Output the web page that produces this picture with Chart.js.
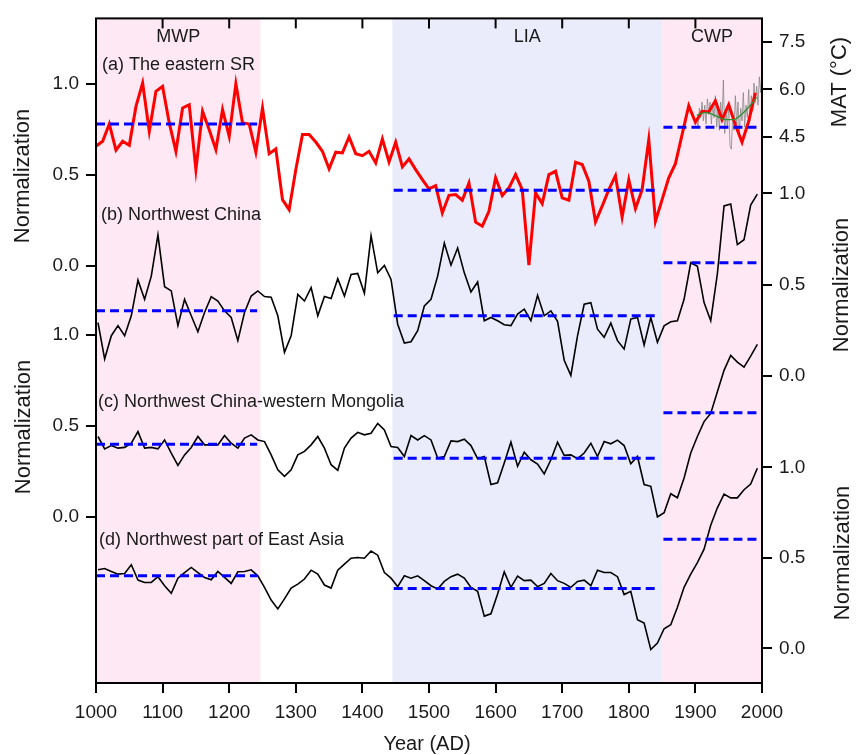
<!DOCTYPE html>
<html lang="en">
<head>
<meta charset="utf-8">
<title>Temperature reconstructions, Northwest China</title>
<script src="https://cdn.jsdelivr.net/npm/chart.js@4.4.1/dist/chart.umd.min.js"></script>
<style>
  html, body { margin: 0; padding: 0; background: #fff; }
  #wrap { width: 856px; height: 755px; }
</style>
</head>
<body>
<div id="wrap"><canvas id="chart" width="856" height="755"></canvas></div>
<script>
/* ============================================================
   Stacked reconstructions (a)-(d), 1000-2000 AD
   ============================================================ */

/* ── Data ── */
// (a) is on decades, the black curves (b)(c)(d) sit a few years later
const YEARS_A = Array.from({ length: 100 }, (_, i) => 1000 + 10 * i);
const YEARS_BCD = Array.from({ length: 100 }, (_, i) => 1003 + 10 * i);

const SERIES_A = [
  0.658, 0.685, 0.780, 0.636, 0.685, 0.663, 0.877, 1.005, 0.740, 0.960,
  0.987, 0.786, 0.630, 0.868, 0.886, 0.529, 0.850, 0.749, 0.639, 0.859,
  0.712, 1.002, 0.786, 0.780, 0.625, 0.868, 0.617, 0.643, 0.364, 0.309,
  0.529, 0.722, 0.722, 0.681, 0.630, 0.533, 0.625, 0.621, 0.709, 0.617,
  0.606, 0.630, 0.566, 0.698, 0.571, 0.680, 0.544, 0.588, 0.529, 0.474,
  0.423, 0.441, 0.291, 0.388, 0.392, 0.361, 0.456, 0.240, 0.218, 0.300,
  0.484, 0.386, 0.429, 0.502, 0.419, 0.004, 0.401, 0.342, 0.502, 0.520,
  0.374, 0.361, 0.570, 0.557, 0.465, 0.242, 0.328, 0.419, 0.496, 0.268,
  0.474, 0.315, 0.419, 0.694, 0.245, 0.364, 0.484, 0.562, 0.722, 0.881,
  0.790, 0.850, 0.846, 0.908, 0.804, 0.886, 0.776, 0.680, 0.795, 0.951
];

const SERIES_B = [
  0.293, 0.094, 0.221, 0.276, 0.221, 0.330, 0.525, 0.420, 0.547, 0.773,
  0.489, 0.466, 0.276, 0.420, 0.330, 0.243, 0.348, 0.435, 0.411, 0.357,
  0.321, 0.194, 0.348, 0.438, 0.466, 0.435, 0.431, 0.330, 0.130, 0.221,
  0.447, 0.411, 0.484, 0.330, 0.435, 0.424, 0.533, 0.438, 0.556, 0.562,
  0.453, 0.768, 0.565, 0.605, 0.529, 0.284, 0.181, 0.188, 0.248, 0.384,
  0.420, 0.547, 0.728, 0.607, 0.701, 0.565, 0.460, 0.515, 0.303, 0.321,
  0.303, 0.281, 0.276, 0.339, 0.366, 0.303, 0.442, 0.330, 0.357, 0.300,
  0.087, 0.004, 0.220, 0.393, 0.402, 0.257, 0.212, 0.290, 0.194, 0.148,
  0.312, 0.321, 0.170, 0.321, 0.185, 0.275, 0.297, 0.303, 0.420, 0.620,
  0.601, 0.402, 0.303, 0.560, 0.931, 0.942, 0.719, 0.746, 0.936, 0.996
];

const SERIES_C = [
  0.443, 0.375, 0.393, 0.379, 0.383, 0.406, 0.470, 0.379, 0.383, 0.375,
  0.424, 0.352, 0.284, 0.342, 0.383, 0.443, 0.397, 0.397, 0.397, 0.448,
  0.406, 0.379, 0.434, 0.452, 0.424, 0.415, 0.342, 0.260, 0.224, 0.260,
  0.342, 0.361, 0.397, 0.443, 0.379, 0.288, 0.257, 0.379, 0.434, 0.466,
  0.452, 0.461, 0.515, 0.479, 0.388, 0.383, 0.333, 0.448, 0.424, 0.448,
  0.424, 0.324, 0.333, 0.419, 0.415, 0.428, 0.393, 0.321, 0.333, 0.179,
  0.188, 0.297, 0.412, 0.279, 0.357, 0.315, 0.291, 0.237, 0.315, 0.412,
  0.339, 0.342, 0.321, 0.352, 0.406, 0.333, 0.415, 0.403, 0.423, 0.393,
  0.293, 0.333, 0.179, 0.169, 0.000, 0.024, 0.128, 0.106, 0.215, 0.352,
  0.443, 0.525, 0.570, 0.689, 0.807, 0.889, 0.852, 0.825, 0.885, 0.950
];

const SERIES_D = [
  0.434, 0.441, 0.425, 0.410, 0.414, 0.462, 0.377, 0.364, 0.364, 0.396,
  0.346, 0.304, 0.388, 0.419, 0.447, 0.419, 0.392, 0.379, 0.425, 0.392,
  0.359, 0.423, 0.425, 0.434, 0.401, 0.337, 0.267, 0.218, 0.273, 0.333,
  0.355, 0.383, 0.432, 0.410, 0.350, 0.333, 0.432, 0.465, 0.498, 0.502,
  0.498, 0.538, 0.515, 0.419, 0.388, 0.341, 0.401, 0.388, 0.401, 0.374,
  0.346, 0.328, 0.370, 0.396, 0.410, 0.388, 0.337, 0.315, 0.178, 0.191,
  0.300, 0.423, 0.337, 0.399, 0.374, 0.377, 0.341, 0.359, 0.414, 0.374,
  0.359, 0.337, 0.370, 0.377, 0.346, 0.432, 0.419, 0.419, 0.396, 0.297,
  0.315, 0.158, 0.139, -0.007, 0.029, 0.108, 0.130, 0.227, 0.337, 0.410,
  0.474, 0.548, 0.681, 0.777, 0.853, 0.832, 0.832, 0.877, 0.908, 0.996
];

// instrumental MAT (°C), grey, and its smoothed curve, green
const MAT_YEARS = Array.from({ length: 50 }, (_, i) => 1902 + 2 * i);
const MAT_VALUES = [
  5.0, 4.8, 5.4, 5.1, 5.6, 5.0, 5.5, 4.9, 5.7, 5.2,
  5.6, 4.9, 5.5, 5.1, 5.8, 4.8, 5.4, 4.7, 5.6, 5.0,
  6.3, 4.6, 5.3, 4.8, 5.5, 4.2, 4.1, 5.2, 4.7, 5.8,
  4.9, 5.6, 4.6, 5.4, 5.0, 5.9, 4.8, 5.5, 5.1, 6.0,
  5.0, 5.8, 5.3, 6.2, 5.6, 6.1, 5.5, 6.4, 5.9, 6.7
];
const MAT_SMOOTH_YEARS = [1902, 1915, 1930, 1945, 1957, 1970, 1982, 1992];
const MAT_SMOOTH = [5.18, 5.27, 5.17, 5.04, 5.04, 5.22, 5.48, 5.75];

// climate periods and the period means (blue dashes)
const PERIOD_NAMES = ['MWP', 'LIA', 'CWP'];
const PERIOD_FROM = [1000, 1445, 1850];
const PERIOD_TO = [1247, 1850, 2000];
const MEAN_FROM = [1000, 1447, 1852];
const MEAN_TO = [1242, 1840, 2000];
const MEAN_A = [0.780, 0.416, 0.762];
const MEAN_B = [0.357, 0.330, 0.620];
const MEAN_C = [0.401, 0.324, 0.574];
const MEAN_D = [0.401, 0.331, 0.603];

const SERIES_LABELS = [
  '(a) The eastern SR',
  '(b) Northwest China',
  '(c) Northwest China-western Mongolia',
  '(d) Northwest part of East Asia'
];

// tick labels
const NORM_TICKS = [1.0, 0.5, 0.0];
const MAT_TICKS = [7.5, 6.0, 4.5];

/* ── Styles ── */
const FONT = "'Liberation Sans', Arial, Helvetica, sans-serif";
const TEXT = '#1a1a1a';
const PERIOD_COLORS = ['#fde8f3', '#eaebfb', '#fde8f3'];
const COLORS = { red: '#ff0000', black: '#000000', blue: '#0000ff', grey: 'rgba(130,130,130,0.75)', green: '#2f8f2f' };

// one hidden y scale per panel, the ranges put each panel in its band
const RANGE = {
  yA: [-2.295, 1.361],
  yB: [-1.679, 1.957],
  yC: [-0.913, 2.743],
  yD: [-0.192, 3.484],
  yMAT: [-12.868, 8.258]
};

function toAxis(v, from, to) {
  const f = (v - RANGE[from][0]) / (RANGE[from][1] - RANGE[from][0]);
  return RANGE[to][0] + f * (RANGE[to][1] - RANGE[to][0]);
}

const leftTicks = [
  ...NORM_TICKS.map(v => ({ value: v, label: v.toFixed(1) })),
  ...NORM_TICKS.map(v => ({ value: toAxis(v, 'yC', 'yA'), label: v.toFixed(1) }))
];
const rightTicks = [
  ...MAT_TICKS.map(v => ({ value: toAxis(v, 'yMAT', 'yB'), label: v.toFixed(1) })),
  ...NORM_TICKS.map(v => ({ value: v, label: v.toFixed(1) })),
  ...NORM_TICKS.map(v => ({ value: toAxis(v, 'yD', 'yB'), label: v.toFixed(1) }))
];

/* ── Datasets ── */
function series(years, values, axis, style) {
  return Object.assign({
    data: years.map((x, i) => ({ x, y: values[i] })),
    yAxisID: axis,
    pointRadius: 0,
    tension: 0,
    fill: false
  }, style);
}

function means(values, axis) {
  return values.map((v, p) => ({
    data: [{ x: MEAN_FROM[p], y: v }, { x: MEAN_TO[p], y: v }],
    yAxisID: axis,
    borderColor: COLORS.blue,
    borderWidth: 3,
    borderDash: [9, 5],
    pointRadius: 0,
    fill: false
  }));
}

const datasets = [
  ...means(MEAN_A, 'yA'),
  ...means(MEAN_B, 'yB'),
  ...means(MEAN_C, 'yC'),
  ...means(MEAN_D, 'yD'),
  series(MAT_SMOOTH_YEARS, MAT_SMOOTH, 'yMAT', { borderColor: COLORS.green, borderWidth: 1.3, cubicInterpolationMode: 'monotone' }),
  series(YEARS_A, SERIES_A, 'yA', { borderColor: COLORS.red, borderWidth: 3 }),
  series(MAT_YEARS, MAT_VALUES, 'yMAT', { borderColor: COLORS.grey, borderWidth: 1 }),
  series(YEARS_BCD, SERIES_B, 'yB', { borderColor: COLORS.black, borderWidth: 1.6 }),
  series(YEARS_BCD, SERIES_C, 'yC', { borderColor: COLORS.black, borderWidth: 1.6 }),
  series(YEARS_BCD, SERIES_D, 'yD', { borderColor: COLORS.black, borderWidth: 1.6 })
];

/* ── Decorations: period bands, frame, texts ── */
const decor = {
  id: 'decor',
  beforeDatasetsDraw(chart) {
    const { ctx, chartArea: a, scales: { x } } = chart;
    ctx.save();
    PERIOD_NAMES.forEach((_, p) => {
      const x0 = x.getPixelForValue(PERIOD_FROM[p]);
      const x1 = x.getPixelForValue(PERIOD_TO[p]);
      ctx.fillStyle = PERIOD_COLORS[p];
      ctx.fillRect(x0, a.top, x1 - x0, a.bottom - a.top);
    });
    ctx.restore();
  },
  afterDraw(chart) {
    const { ctx, chartArea: a, scales: { x } } = chart;
    ctx.save();

    // frame + inner ticks on the top edge
    ctx.strokeStyle = '#000';
    ctx.lineWidth = 2;
    ctx.strokeRect(a.left, a.top, a.right - a.left, a.bottom - a.top);
    x.ticks.forEach(t => {
      const px = x.getPixelForValue(t.value);
      ctx.beginPath();
      ctx.moveTo(px, a.top);
      ctx.lineTo(px, a.top + 10);
      ctx.stroke();
    });

    ctx.fillStyle = TEXT;
    ctx.textBaseline = 'middle';

    // period names
    ctx.font = `18px ${FONT}`;
    ctx.textAlign = 'center';
    PERIOD_NAMES.forEach((name, p) => {
      ctx.fillText(name, x.getPixelForValue((PERIOD_FROM[p] + PERIOD_TO[p]) / 2), 37);
    });

    // panel labels
    ctx.textAlign = 'left';
    [[102, 65], [101, 215], [98, 402], [99, 540]].forEach(([lx, ly], i) => {
      ctx.fillText(SERIES_LABELS[i], lx, ly);
    });

    // axis titles
    ctx.font = `20px ${FONT}`;
    ctx.textAlign = 'center';
    ctx.fillText('Year (AD)', 427, 744);

    ctx.font = `22px ${FONT}`;
    [['Normalization', 23, 176], ['Normalization', 24, 427],
     ['MAT (°C)', 840, 82], ['Normalization', 842, 285], ['Normalization', 843, 553]]
      .forEach(([txt, tx, ty]) => {
        ctx.save();
        ctx.translate(tx, ty);
        ctx.rotate(-Math.PI / 2);
        ctx.fillText(txt, 0, 0);
        ctx.restore();
      });

    ctx.restore();
  }
};

/* ── Scales ── */
const tickFont = { family: FONT, size: 19 };
const tickGrid = { drawOnChartArea: false, drawTicks: true, tickLength: 10, color: '#000', lineWidth: 2 };

function hiddenScale(id) {
  return { type: 'linear', display: false, min: RANGE[id][0], max: RANGE[id][1] };
}

function sideScale(id, position, width, list) {
  return {
    type: 'linear',
    position,
    min: RANGE[id][0],
    max: RANGE[id][1],
    afterFit: s => { s.width = width; },
    afterBuildTicks: s => { s.ticks = list.map(t => ({ value: t.value })); },
    border: { display: false },
    grid: tickGrid,
    ticks: { autoSkip: false, padding: 7, color: TEXT, font: tickFont, callback: (v, i) => list[i].label }
  };
}

new Chart(document.getElementById('chart'), {
  type: 'line',
  data: { datasets },
  options: {
    responsive: false,
    animation: false,
    layout: { padding: { top: 14, left: 0, right: 0, bottom: 0 } },
    plugins: { legend: { display: false }, tooltip: { enabled: false } },
    scales: {
      x: {
        type: 'linear',
        position: 'bottom',
        min: 1000,
        max: 2000,
        afterFit: s => { s.height = 72; },
        border: { display: false },
        grid: tickGrid,
        ticks: { stepSize: 100, autoSkip: false, maxRotation: 0, padding: 8, color: TEXT, font: tickFont, callback: v => String(v) }
      },
      yA: sideScale('yA', 'left', 96, leftTicks),
      yB: sideScale('yB', 'right', 94, rightTicks),
      yC: hiddenScale('yC'),
      yD: hiddenScale('yD'),
      yMAT: hiddenScale('yMAT')
    }
  },
  plugins: [decor]
});
</script>
</body>
</html>
